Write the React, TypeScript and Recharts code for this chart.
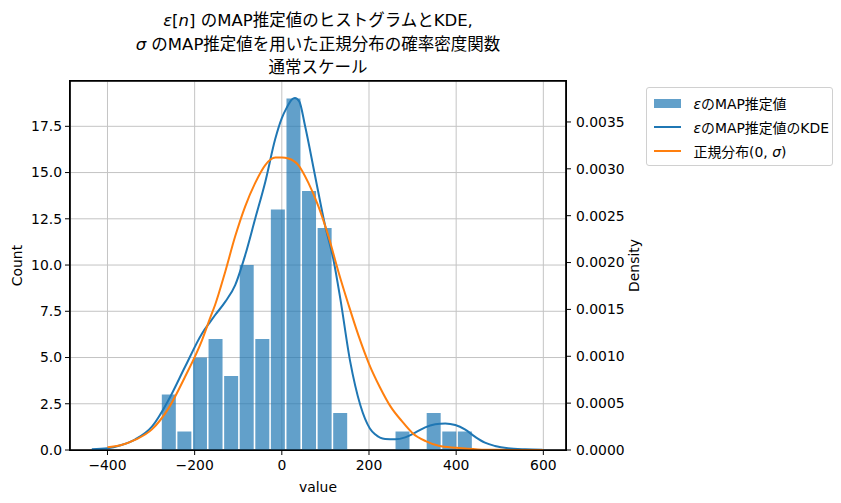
import React from "react";
import { ComposedChart, Bar, Line, XAxis, YAxis, CartesianGrid, Legend, ReferenceArea } from "recharts";

// ---- data ----
const binCenters = [-259.1, -223.4, -187.6, -151.9, -116.1, -80.4, -44.6, -8.9, 26.9, 62.6, 98.4, 134.1, 169.9, 205.6, 241.4, 277.1, 312.9, 348.6, 384.4, 420.1];
const binCounts = [3, 1, 5, 6, 4, 10, 6, 13, 19, 14, 12, 2, 0, 0, 0, 1, 0, 2, 1, 1];

const kdeX = [-436, -400, -370, -336, -298, -260, -222, -183, -164, -153, -130, -107, -84, -61, -38, -15, 0, 11, 23, 30, 40, 53, 76, 99, 118, 134, 157, 180, 202, 214, 237, 260, 283, 306, 329, 352, 375, 398, 420, 443, 466, 489, 519, 558, 598];
const kdeY = [0.000008, 0.000018, 0.00005, 0.000114, 0.000249, 0.000533, 0.000888, 0.001244, 0.00137, 0.00144, 0.00158, 0.00176, 0.00208, 0.00247, 0.00286, 0.00332, 0.00354, 0.00365, 0.00374, 0.003756, 0.00372, 0.003465, 0.002932, 0.0024, 0.00204, 0.00162, 0.00094, 0.00048, 0.00023, 0.000167, 0.000117, 0.000114, 0.000135, 0.000185, 0.000242, 0.000274, 0.000284, 0.000267, 0.00022, 0.000142, 0.000078, 0.000043, 0.000018, 0.000007, 0.000003];

const normX = [-400, -370, -336, -298, -260, -222, -183, -164, -153, -130, -107, -84, -61, -38, -15, 0, 15, 38, 61, 84, 107, 130, 153, 176, 200, 225, 250, 275, 300, 330, 360, 400, 450, 500, 550, 600];
const normY = [0.00003, 0.00005, 0.00011, 0.00022, 0.000444, 0.000781, 0.001173, 0.001415, 0.00155, 0.0019, 0.00228, 0.0026, 0.00285, 0.00304, 0.00312, 0.00312, 0.00311, 0.00304, 0.00285, 0.0026, 0.00228, 0.0019, 0.00155, 0.00122, 0.00092, 0.00067, 0.00046, 0.00031, 0.00018, 0.000095, 0.000045, 0.000023, 0.000006, 0.0000015, 0.0000003, 0.0000001];

const xTicks = [-400, -200, 0, 200, 400, 600];
const countTicks = [0, 2.5, 5, 7.5, 10, 12.5, 15, 17.5];
const densityTicks = [0, 0.0005, 0.001, 0.0015, 0.002, 0.0025, 0.003, 0.0035];

const xDomain = [-486, 652];
const countDomain = [0, 19.95];
const densityDomain = [0, 0.003937];

const legendLabels = ["のMAP推定値", "のMAP推定値のKDE", "正規分布(0, "];

// ---- tables built from the arrays ----
const histData = binCenters.map((c, i) => ({ center: c, count: binCounts[i] }));
const kdeData = kdeX.map((v, i) => ({ v, d: kdeY[i] }));
const normData = normX.map((v, i) => ({ v, d: normY[i] }));

const FONT = "'DejaVu Sans', 'Noto Sans CJK JP', sans-serif";
const BLUE = "#1f77b4";
const ORANGE = "#ff7f0e";
const TICK = { fill: "#000", fontSize: 13.9, fontFamily: FONT };
const SPINE = { stroke: "#000", strokeWidth: 1.2 };

const fmtX = (v: number) => (v < 0 ? "\u2212" + Math.abs(v) : String(v));

const CountLabel = (props: any) => {
  const vb = props.viewBox || {};
  const x = vb.x + 21.5;
  const y = vb.y + vb.height / 2;
  return (
    <text x={x} y={y} transform={`rotate(-90, ${x}, ${y})`} textAnchor="middle" fontSize={13.9} fontFamily={FONT} fill="#000">
      Count
    </text>
  );
};

const DensityLabel = (props: any) => {
  const vb = props.viewBox || {};
  const x = vb.x + 72.5;
  const y = vb.y + vb.height / 2;
  return (
    <text x={x} y={y} transform={`rotate(-90, ${x}, ${y})`} textAnchor="middle" fontSize={13.9} fontFamily={FONT} fill="#000">
      Density
    </text>
  );
};

const ValueLabel = (props: any) => {
  const vb = props.viewBox || {};
  return (
    <text x={vb.x + vb.width / 2} y={vb.y + 41.5} textAnchor="middle" fontSize={13.9} fontFamily={FONT} fill="#000">
      value
    </text>
  );
};

const LegendBox = () => {
  const row: React.CSSProperties = { display: "flex", alignItems: "center", height: 23.7 };
  const text: React.CSSProperties = { marginLeft: 13, fontSize: 13.9, whiteSpace: "nowrap", color: "#000" };
  return (
    <div
      style={{
        boxSizing: "border-box",
        width: 187,
        height: 79,
        border: "1px solid #d0d0d0",
        borderRadius: 3,
        background: "rgba(255,255,255,0.8)",
        paddingTop: 3.5,
        paddingLeft: 6.5,
        fontFamily: FONT,
      }}
    >
      <div style={row}>
        <span style={{ width: 27, height: 9, background: BLUE, opacity: 0.7, display: "inline-block" }} />
        <span style={text}>
          <i>ε</i>
          {legendLabels[0]}
        </span>
      </div>
      <div style={row}>
        <span style={{ width: 27, height: 2, background: BLUE, display: "inline-block" }} />
        <span style={text}>
          <i>ε</i>
          {legendLabels[1]}
        </span>
      </div>
      <div style={row}>
        <span style={{ width: 27, height: 2, background: ORANGE, display: "inline-block" }} />
        <span style={text}>
          {legendLabels[2]}
          <i>σ</i>)
        </span>
      </div>
    </div>
  );
};

const titleLine = (top: number): React.CSSProperties => ({
  position: "absolute",
  left: 70,
  width: 496,
  top,
  height: 24,
  lineHeight: "24px",
  textAlign: "center",
  fontSize: 16.5,
  whiteSpace: "nowrap",
  color: "#000",
  fontFamily: FONT,
});

export default function App() {
  return (
    <div style={{ position: "absolute", left: 0, top: 0, width: 841, height: 503, background: "#fff", fontFamily: FONT }}>
      <div style={titleLine(8.5)}>
        <i>ε</i>[<i>n</i>] のMAP推定値のヒストグラムとKDE,
      </div>
      <div style={titleLine(33)}>
        <i>σ</i> のMAP推定値を用いた正規分布の確率密度関数
      </div>
      <div style={titleLine(55.5)}>通常スケール</div>
      <div style={{ position: "absolute", left: 0, top: 0 }}>
        <ComposedChart
          width={841}
          height={503}
          data={histData}
          margin={{ top: 80, right: 195, bottom: 8, left: 0 }}
          barCategoryGap={0.7}
        >
          <CartesianGrid xAxisId="x" yAxisId="count" stroke="#c4c4c4" strokeWidth={1} />
          <XAxis
            xAxisId="x"
            type="number"
            dataKey="v"
            domain={xDomain}
            allowDataOverflow
            ticks={xTicks}
            tickFormatter={fmtX}
            height={45}
            tick={TICK}
            tickSize={5}
            tickMargin={5}
            axisLine={SPINE}
            tickLine={{ stroke: "#000" }}
            label={ValueLabel}
          />
          <XAxis
            xAxisId="bins"
            type="number"
            dataKey="center"
            orientation="top"
            domain={xDomain}
            allowDataOverflow
            height={1}
            tick={false}
            tickLine={false}
            axisLine={SPINE}
          />
          <YAxis
            yAxisId="count"
            type="number"
            domain={countDomain}
            allowDataOverflow
            ticks={countTicks}
            tickFormatter={(v: number) => v.toFixed(1)}
            width={70}
            tick={TICK}
            tickSize={5}
            tickMargin={3}
            axisLine={SPINE}
            tickLine={{ stroke: "#000" }}
            label={CountLabel}
          />
          <YAxis
            yAxisId="density"
            orientation="right"
            type="number"
            domain={densityDomain}
            allowDataOverflow
            ticks={densityTicks}
            tickFormatter={(v: number) => v.toFixed(4)}
            width={80}
            tick={TICK}
            tickSize={5}
            tickMargin={5}
            axisLine={SPINE}
            tickLine={{ stroke: "#000" }}
            label={DensityLabel}
          />
          <Bar xAxisId="bins" yAxisId="count" dataKey="count" fill={BLUE} fillOpacity={0.7} isAnimationActive={false} />
          <Line
            xAxisId="x"
            yAxisId="density"
            data={kdeData}
            dataKey="d"
            type="monotone"
            stroke={BLUE}
            strokeWidth={2}
            dot={false}
            activeDot={false}
            isAnimationActive={false}
          />
          <Line
            xAxisId="x"
            yAxisId="density"
            data={normData}
            dataKey="d"
            type="monotone"
            stroke={ORANGE}
            strokeWidth={2}
            dot={false}
            activeDot={false}
            isAnimationActive={false}
          />
          <ReferenceArea
            xAxisId="x"
            yAxisId="count"
            x1={xDomain[0]}
            x2={xDomain[1]}
            y1={countDomain[0]}
            y2={countDomain[1]}
            ifOverflow="visible"
            fill="none"
            stroke="#000"
            strokeWidth={1.2}
          />
          <Legend
            layout="vertical"
            align="center"
            verticalAlign="middle"
            wrapperStyle={{ left: 646, top: 87, width: 187, height: 79 }}
            content={LegendBox}
          />
        </ComposedChart>
      </div>
      {/* axes frame (spines) */}
      <div
        style={{
          position: "absolute",
          left: 69.4,
          top: 80.4,
          width: 496,
          height: 369,
          border: "1.2px solid #000",
          pointerEvents: "none",
        }}
      />
    </div>
  );
}
